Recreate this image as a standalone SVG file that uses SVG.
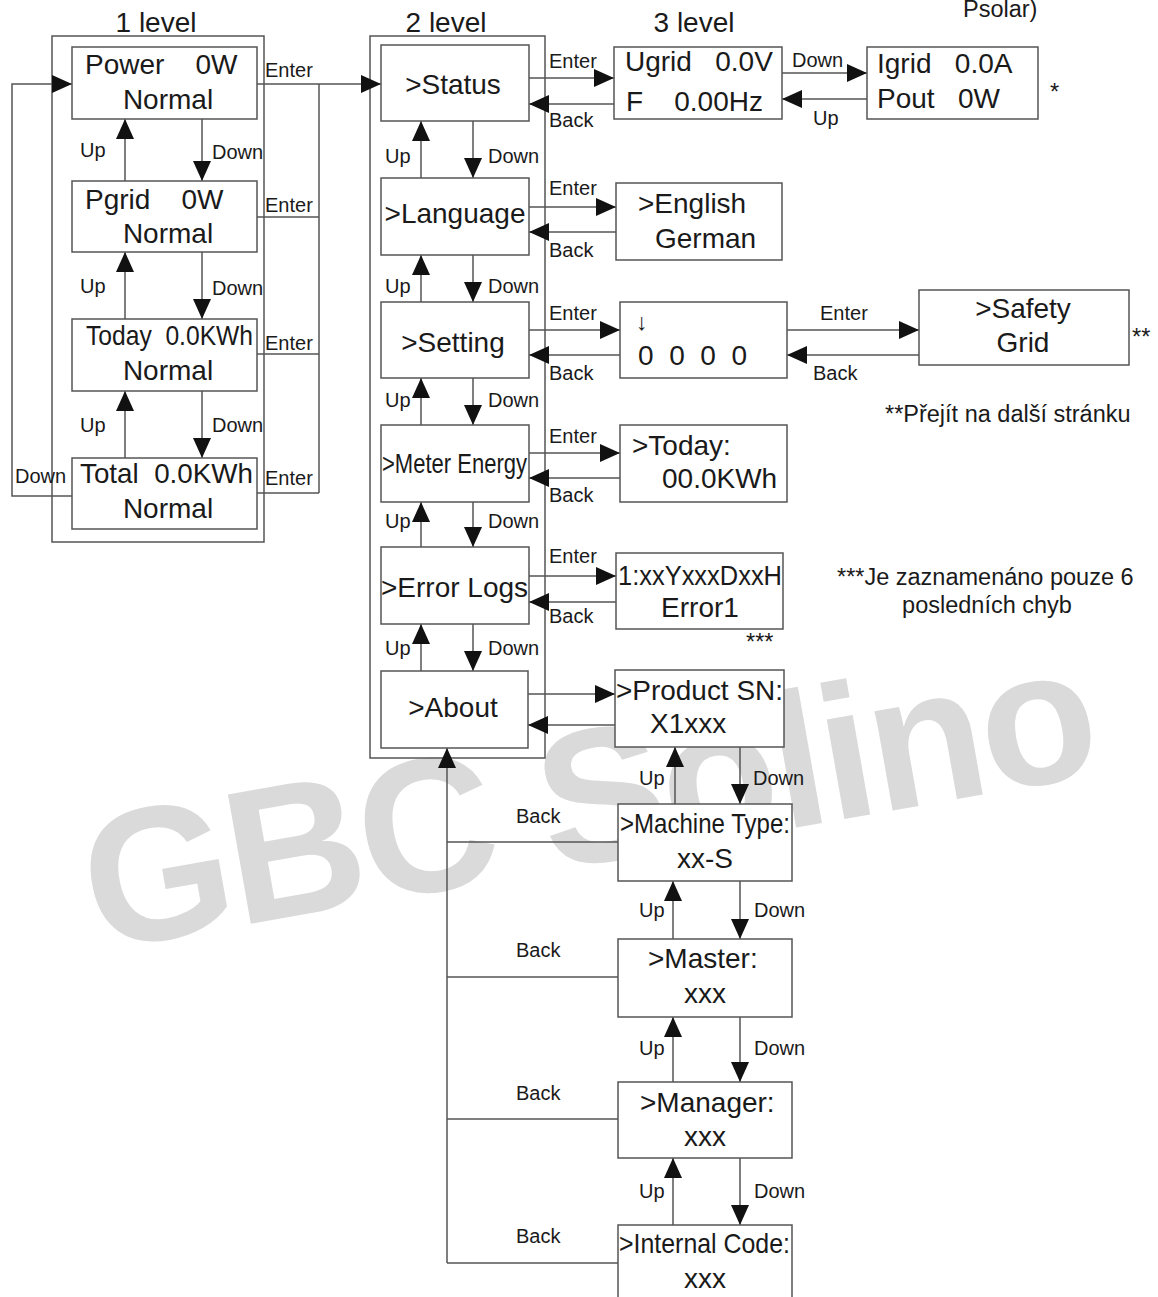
<svg xmlns="http://www.w3.org/2000/svg" width="1158" height="1297" viewBox="0 0 1158 1297">
<style>
.bg{fill:#fff}
.frame{fill:none;stroke:#555;stroke-width:1.5}
.box{fill:#fff;stroke:#555;stroke-width:1.5}
.c{fill:none;stroke:#555;stroke-width:1.5}
.ca{fill:none;stroke:#555;stroke-width:1.5;marker-end:url(#ah)}
text{font-family:"Liberation Sans",Arial,sans-serif;fill:#1a1a1a;white-space:pre}
.t{font-size:28px}
.l{font-size:20px}
.n{font-size:23.5px}
.m{text-anchor:middle}
.wm{font-family:"Liberation Sans",Arial,sans-serif;font-weight:bold;font-size:191px;letter-spacing:-4px;fill:#dadada}
</style>
<defs>
<marker id="ah" markerWidth="20" markerHeight="18" refX="20" refY="9" orient="auto" markerUnits="userSpaceOnUse">
<path d="M0,0 L20,9 L0,18 z" fill="#111"/>
</marker>
</defs>
<rect class="bg" x="0" y="0" width="1158" height="1297"/>
<text class="wm" transform="translate(96,951) rotate(-10)">GBC Solino</text>

<g id="titles">
<text class="t m" x="156" y="32">1 level</text>
<text class="t m" x="446" y="32">2 level</text>
<text class="t m" x="694" y="32">3 level</text>
<text class="n" x="963" y="17">Psolar)</text>
</g>

<g id="frames">
<rect class="frame" x="52" y="36" width="212" height="506"/>
<rect class="frame" x="370" y="36" width="175" height="722"/>
</g>

<g id="connectors">
<polyline class="ca" points="72,496 12,496 12,84 72,84"/>
<line class="ca" x1="125" y1="181" x2="125" y2="119"/>
<line class="ca" x1="125" y1="319" x2="125" y2="252"/>
<line class="ca" x1="125" y1="458" x2="125" y2="391"/>
<line class="ca" x1="202" y1="119" x2="202" y2="181"/>
<line class="ca" x1="202" y1="252" x2="202" y2="319"/>
<line class="ca" x1="202" y1="391" x2="202" y2="458"/>
<line class="ca" x1="257" y1="84" x2="381" y2="84"/>
<line class="c" x1="257" y1="217" x2="319" y2="217"/>
<line class="c" x1="257" y1="354" x2="319" y2="354"/>
<line class="c" x1="257" y1="493" x2="319" y2="493"/>
<line class="c" x1="319" y1="84" x2="319" y2="493"/>
<line class="ca" x1="421" y1="178" x2="421" y2="121"/>
<line class="ca" x1="421" y1="302" x2="421" y2="255"/>
<line class="ca" x1="421" y1="425" x2="421" y2="378"/>
<line class="ca" x1="421" y1="547" x2="421" y2="502"/>
<line class="ca" x1="421" y1="671" x2="421" y2="624"/>
<line class="ca" x1="473" y1="121" x2="473" y2="178"/>
<line class="ca" x1="473" y1="255" x2="473" y2="302"/>
<line class="ca" x1="473" y1="378" x2="473" y2="425"/>
<line class="ca" x1="473" y1="502" x2="473" y2="547"/>
<line class="ca" x1="473" y1="624" x2="473" y2="671"/>
<line class="ca" x1="529" y1="78" x2="614" y2="78"/>
<line class="ca" x1="614" y1="104" x2="529" y2="104"/>
<line class="ca" x1="782" y1="73" x2="867" y2="73"/>
<line class="ca" x1="867" y1="99" x2="782" y2="99"/>
<line class="ca" x1="529" y1="207" x2="616" y2="207"/>
<line class="ca" x1="616" y1="232" x2="529" y2="232"/>
<line class="ca" x1="529" y1="330" x2="620" y2="330"/>
<line class="ca" x1="620" y1="355" x2="529" y2="355"/>
<line class="ca" x1="787" y1="330" x2="919" y2="330"/>
<line class="ca" x1="919" y1="355" x2="787" y2="355"/>
<line class="ca" x1="529" y1="453" x2="620" y2="453"/>
<line class="ca" x1="620" y1="478" x2="529" y2="478"/>
<line class="ca" x1="529" y1="576" x2="616" y2="576"/>
<line class="ca" x1="616" y1="602" x2="529" y2="602"/>
<line class="ca" x1="528" y1="694" x2="615" y2="694"/>
<line class="ca" x1="615" y1="725" x2="528" y2="725"/>
<line class="ca" x1="675" y1="804" x2="675" y2="747"/>
<line class="ca" x1="740" y1="747" x2="740" y2="804"/>
<line class="ca" x1="673" y1="939" x2="673" y2="881"/>
<line class="ca" x1="740" y1="881" x2="740" y2="939"/>
<line class="ca" x1="673" y1="1082" x2="673" y2="1017"/>
<line class="ca" x1="740" y1="1017" x2="740" y2="1082"/>
<line class="ca" x1="673" y1="1225" x2="673" y2="1158"/>
<line class="ca" x1="740" y1="1158" x2="740" y2="1225"/>
<line class="c" x1="618" y1="842" x2="447" y2="842"/>
<line class="c" x1="618" y1="977" x2="447" y2="977"/>
<line class="c" x1="618" y1="1119" x2="447" y2="1119"/>
<line class="c" x1="618" y1="1263" x2="447" y2="1263"/>
<line class="ca" x1="447" y1="1263" x2="447" y2="748"/>
</g>

<g id="connector-labels">
<text class="l" x="265" y="77">Enter</text>
<text class="l" x="265" y="212">Enter</text>
<text class="l" x="265" y="350">Enter</text>
<text class="l" x="265" y="485">Enter</text>
<text class="l" x="80" y="157">Up</text>
<text class="l" x="80" y="293">Up</text>
<text class="l" x="80" y="432">Up</text>
<text class="l" x="212" y="159">Down</text>
<text class="l" x="212" y="295">Down</text>
<text class="l" x="212" y="432">Down</text>
<text class="l" x="15" y="483">Down</text>
<text class="l" x="385" y="163">Up</text>
<text class="l" x="385" y="293">Up</text>
<text class="l" x="385" y="407">Up</text>
<text class="l" x="385" y="528">Up</text>
<text class="l" x="385" y="655">Up</text>
<text class="l" x="488" y="163">Down</text>
<text class="l" x="488" y="293">Down</text>
<text class="l" x="488" y="407">Down</text>
<text class="l" x="488" y="528">Down</text>
<text class="l" x="488" y="655">Down</text>
<text class="l" x="549" y="68">Enter</text>
<text class="l" x="549" y="127">Back</text>
<text class="l" x="549" y="195">Enter</text>
<text class="l" x="549" y="257">Back</text>
<text class="l" x="549" y="320">Enter</text>
<text class="l" x="549" y="380">Back</text>
<text class="l" x="549" y="443">Enter</text>
<text class="l" x="549" y="502">Back</text>
<text class="l" x="549" y="563">Enter</text>
<text class="l" x="549" y="623">Back</text>
<text class="l" x="792" y="67">Down</text>
<text class="l" x="813" y="125">Up</text>
<text class="l" x="820" y="320">Enter</text>
<text class="l" x="813" y="380">Back</text>
<text class="l" x="639" y="785">Up</text>
<text class="l" x="753" y="785">Down</text>
<text class="l" x="639" y="917">Up</text>
<text class="l" x="754" y="917">Down</text>
<text class="l" x="639" y="1055">Up</text>
<text class="l" x="754" y="1055">Down</text>
<text class="l" x="639" y="1198">Up</text>
<text class="l" x="754" y="1198">Down</text>
<text class="l" x="516" y="823">Back</text>
<text class="l" x="516" y="957">Back</text>
<text class="l" x="516" y="1100">Back</text>
<text class="l" x="516" y="1243">Back</text>
</g>

<g id="n-power"><rect class="box" x="72" y="47" width="185" height="72"/>
<text class="t" x="85" y="74">Power    0W</text><text class="t m" x="168" y="109">Normal</text></g>
<g id="n-pgrid"><rect class="box" x="72" y="181" width="185" height="71"/>
<text class="t" x="85" y="209">Pgrid    0W</text><text class="t m" x="168" y="243">Normal</text></g>
<g id="n-today"><rect class="box" x="72" y="319" width="185" height="72"/>
<text class="t" x="86" y="345" textLength="167" lengthAdjust="spacingAndGlyphs">Today  0.0KWh</text><text class="t m" x="168" y="380">Normal</text></g>
<g id="n-total"><rect class="box" x="72" y="458" width="185" height="71"/>
<text class="t" x="80" y="483" textLength="173" lengthAdjust="spacingAndGlyphs">Total  0.0KWh</text><text class="t m" x="168" y="518">Normal</text></g>

<g id="n-status"><rect class="box" x="381" y="45" width="148" height="76"/>
<text class="t m" x="453" y="94">&gt;Status</text></g>
<g id="n-language"><rect class="box" x="381" y="178" width="148" height="77"/>
<text class="t m" x="455" y="223">&gt;Language</text></g>
<g id="n-setting"><rect class="box" x="381" y="302" width="148" height="76"/>
<text class="t m" x="453" y="352">&gt;Setting</text></g>
<g id="n-meter"><rect class="box" x="381" y="425" width="148" height="77"/>
<text class="t" x="382" y="473" textLength="145" lengthAdjust="spacingAndGlyphs">&gt;Meter Energy</text></g>
<g id="n-error"><rect class="box" x="381" y="547" width="148" height="77"/>
<text class="t" x="381" y="597">&gt;Error Logs</text></g>
<g id="n-about"><rect class="box" x="381" y="671" width="147" height="77"/>
<text class="t m" x="453" y="717">&gt;About</text></g>

<g id="n-ugrid"><rect class="box" x="614" y="47" width="168" height="72"/>
<text class="t" x="625" y="71">Ugrid   0.0V</text><text class="t" x="626" y="111">F    0.00Hz</text></g>
<g id="n-igrid"><rect class="box" x="867" y="47" width="171" height="72"/>
<text class="t" x="877" y="73">Igrid   0.0A</text><text class="t" x="877" y="108">Pout   0W</text>
<text class="n" x="1050" y="100">*</text></g>
<g id="n-english"><rect class="box" x="616" y="183" width="166" height="77"/>
<text class="t" x="638" y="213">&gt;English</text><text class="t" x="655" y="248">German</text></g>
<g id="n-password"><rect class="box" x="620" y="302" width="167" height="76"/>
<text class="n" x="636" y="330">↓</text><text class="t" x="638" y="365">0  0  0  0</text></g>
<g id="n-safety"><rect class="box" x="919" y="290" width="210" height="75"/>
<text class="t m" x="1023" y="318">&gt;Safety</text><text class="t m" x="1023" y="352">Grid</text>
<text class="n" x="1132" y="345">**</text></g>
<g id="n-todayenergy"><rect class="box" x="620" y="425" width="167" height="77"/>
<text class="t" x="632" y="455">&gt;Today:</text><text class="t" x="662" y="488">00.0KWh</text></g>
<g id="n-errorlog"><rect class="box" x="616" y="553" width="167" height="76"/>
<text class="t" x="618" y="585" textLength="164" lengthAdjust="spacingAndGlyphs">1:xxYxxxDxxH</text><text class="t m" x="700" y="617">Error1</text>
<text class="n" x="746" y="650">***</text></g>
<g id="n-product"><rect class="box" x="615" y="670" width="169" height="77"/>
<text class="t" x="616" y="700" textLength="167" lengthAdjust="spacingAndGlyphs">&gt;Product SN:</text><text class="t" x="650" y="733">X1xxx</text></g>
<g id="n-machine"><rect class="box" x="618" y="804" width="174" height="77"/>
<text class="t" x="620" y="833" textLength="170" lengthAdjust="spacingAndGlyphs">&gt;Machine Type:</text><text class="t m" x="705" y="868">xx-S</text></g>
<g id="n-master"><rect class="box" x="618" y="939" width="174" height="78"/>
<text class="t" x="648" y="968">&gt;Master:</text><text class="t m" x="705" y="1003">xxx</text></g>
<g id="n-manager"><rect class="box" x="618" y="1082" width="174" height="76"/>
<text class="t" x="640" y="1112">&gt;Manager:</text><text class="t m" x="705" y="1146">xxx</text></g>
<g id="n-internal"><rect class="box" x="618" y="1225" width="174" height="80"/>
<text class="t" x="619" y="1253" textLength="171" lengthAdjust="spacingAndGlyphs">&gt;Internal Code:</text><text class="t m" x="705" y="1288">xxx</text></g>

<g id="notes">
<text class="n" x="885" y="422">**Přejít na další stránku</text>
<text class="n" x="837" y="585">***Je zaznamenáno pouze 6</text>
<text class="n m" x="987" y="613">posledních chyb</text>
</g>
</svg>
